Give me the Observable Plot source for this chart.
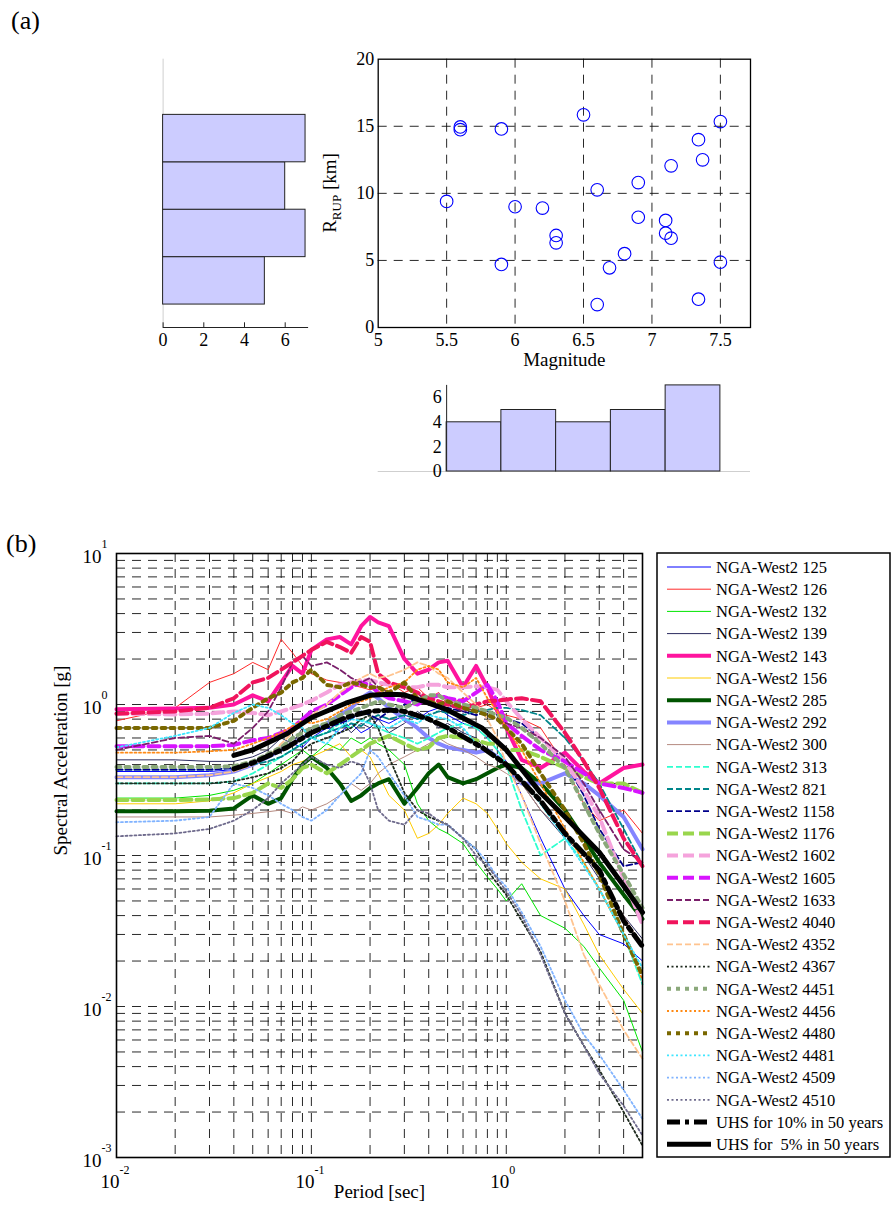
<!DOCTYPE html>
<html>
<head>
<meta charset="utf-8">
<script src="https://cdn.jsdelivr.net/npm/d3@7"></script>
<script src="https://cdn.jsdelivr.net/npm/@observablehq/plot@0.6"></script>
<style>
  body { margin: 0; background: #fff; }
  #fig { position: relative; width: 892px; height: 1217px; font-family: "Liberation Serif", "Times New Roman", serif; color: #000; }
  #fig svg { position: absolute; left: 0; overflow: visible; }
  .tag { position: absolute; font-size: 26px; line-height: 1; }
</style>
</head>
<body>
<div id="fig">
  <div class="tag" style="left:11px;top:8px;">(a)</div>
  <div class="tag" style="left:6px;top:531px;">(b)</div>
</div>
<script>
// ---------- (a) earthquake records: magnitude vs rupture distance ----------
const magnitude = [5.5, 5.6, 5.6, 5.9, 5.9, 6.0, 6.2, 6.3, 6.3, 6.5, 6.6, 6.6, 6.69, 6.8, 6.9, 6.9, 7.1, 7.1, 7.14, 7.14, 7.34, 7.37, 7.34, 7.5, 7.5];
const rrup      = [9.4, 14.95, 14.75, 14.8, 4.7, 9.0, 8.9, 6.86, 6.31, 15.85, 10.26, 1.71, 4.45, 5.5, 10.8, 8.22, 7.98, 7.03, 6.66, 12.05, 14.0, 12.5, 2.11, 15.35, 4.87];

// marginal histograms (bin edges and counts)
const magEdges  = [5.5, 5.9, 6.3, 6.7, 7.1, 7.5];
const magCounts = [4, 5, 4, 5, 7];
const rEdges    = [1.71, 5.245, 8.78, 12.315, 15.85];
const rCounts   = [5, 7, 6, 7];

const magTicks  = [5, 5.5, 6, 6.5, 7, 7.5];
const rTicks    = [0, 5, 10, 15, 20];
const histTicks = [0, 2, 4, 6];

// ---------- (b) response spectra ----------
const periods = [0.01, 0.02, 0.03, 0.04, 0.05, 0.06, 0.07, 0.08, 0.09, 0.1, 0.12, 0.14, 0.16, 0.18, 0.2, 0.22, 0.25, 0.3, 0.35, 0.4, 0.45, 0.5, 0.6, 0.7, 0.8, 0.9, 1.0, 1.2, 1.5, 2.0, 2.5, 3.0, 4.0, 5.0];

const sa125  = [0.36,0.36,0.36,0.37,0.40,0.45,0.50,0.55,0.52,0.60, 0.70,0.65,0.75,0.65,0.70,0.80,0.75,0.85,0.80,0.90, 0.95,0.85,0.75,0.70,0.60,0.50,0.42,0.25,0.13,0.06, 0.04,0.03,0.026,0.02];
const sa126  = [0.78,0.95,1.4,1.6,1.9,1.7,2.7,2.2,1.8,1.6, 1.45,1.4,1.35,1.3,1.25,1.3,1.4,1.2,1.3,1.1, 1.2,1.0,1.1,0.95,1.0,0.9,0.85,0.8,0.7,0.4, 0.22,0.17,0.2,0.14];
const sa132  = [0.24,0.24,0.25,0.27,0.30,0.35,0.40,0.45,0.50,0.45, 0.55,0.50,0.60,0.55,0.60,0.55,0.50,0.40,0.22,0.17, 0.15,0.14,0.12,0.09,0.072,0.06,0.05,0.065,0.04,0.033, 0.025,0.018,0.011,0.005];
const sa139  = [0.43,0.43,0.42,0.42,0.45,0.50,0.60,0.55,0.70,0.60, 0.65,0.80,0.65,0.75,0.70,0.80,0.65,0.75,0.90,0.80, 0.70,0.75,0.65,0.60,0.50,0.45,0.40,0.30,0.20,0.13, 0.10,0.07,0.04,0.028];
const sa143  = [0.93,0.94,0.95,1.0,1.15,1.05,1.4,1.8,1.6,2.3, 2.7,2.8,2.5,3.3,3.8,3.5,3.3,2.0,1.6,1.7, 1.9,1.95,1.3,1.8,1.3,0.9,0.7,0.43,0.38,0.48, 0.36,0.30,0.38,0.40];
const sa156  = [0.22,0.22,0.23,0.26,0.30,0.33,0.36,0.40,0.42,0.45, 0.50,0.55,0.45,0.50,0.45,0.35,0.25,0.20,0.13,0.14, 0.16,0.19,0.24,0.22,0.19,0.15,0.12,0.09,0.07,0.06, 0.035,0.022,0.013,0.009];
const sa285  = [0.196,0.196,0.198,0.205,0.25,0.22,0.24,0.32,0.40,0.45, 0.38,0.30,0.23,0.25,0.28,0.30,0.32,0.22,0.28,0.35, 0.40,0.33,0.30,0.32,0.35,0.38,0.40,0.38,0.30,0.20, 0.13,0.09,0.055,0.038];
const sa292  = [0.33,0.33,0.34,0.36,0.40,0.45,0.50,0.55,0.60,0.65, 0.75,0.85,0.95,1.1,1.2,1.1,0.95,0.80,0.70,0.60, 0.55,0.52,0.50,0.48,0.50,0.45,0.40,0.30,0.30,0.35, 0.30,0.25,0.18,0.11];
const sa300  = [0.18,0.18,0.18,0.185,0.19,0.195,0.20,0.19,0.21,0.20, 0.22,0.25,0.30,0.27,0.30,0.35,0.40,0.45,0.50,0.55, 0.60,0.55,0.50,0.45,0.40,0.38,0.35,0.30,0.20,0.14, 0.10,0.075,0.04,0.025];
const sa313  = [0.30,0.30,0.30,0.31,0.35,0.40,0.45,0.50,0.55,0.60, 0.65,0.75,0.70,0.80,0.75,0.70,0.65,0.60,0.55,0.60, 0.65,0.70,0.75,0.70,0.60,0.50,0.40,0.20,0.10,0.13, 0.09,0.06,0.03,0.014];
const sa821  = [0.37,0.37,0.37,0.38,0.40,0.42,0.45,0.50,0.55,0.60, 0.65,0.70,0.75,0.72,0.80,0.85,0.80,0.85,0.80,0.85, 0.90,0.88,0.85,0.90,0.92,0.95,0.95,0.92,0.85,0.60, 0.42,0.30,0.15,0.087];
const sa1158 = [0.37,0.37,0.37,0.38,0.42,0.45,0.50,0.55,0.60,0.65, 0.70,0.75,0.80,0.90,0.85,0.80,0.90,1.0,1.1,1.05, 0.95,0.95,0.90,0.85,0.90,0.85,0.80,0.75,0.60,0.42, 0.25,0.15,0.085,0.09];
const sa1176 = [0.233,0.233,0.235,0.24,0.26,0.30,0.28,0.32,0.38,0.40, 0.35,0.40,0.45,0.50,0.55,0.58,0.62,0.55,0.50,0.52, 0.60,0.62,0.60,0.58,0.55,0.55,0.50,0.50,0.45,0.38, 0.33,0.30,0.30,0.26];
const sa1602 = [0.87,0.86,0.87,0.90,0.88,0.85,0.90,0.95,1.0,1.06, 1.2,1.35,1.4,1.45,1.45,1.4,1.35,1.3,1.3,1.35, 1.35,1.3,1.3,1.32,1.3,1.25,1.05,0.80,0.60,0.42, 0.27,0.18,0.07,0.035];
const sa1605 = [0.53,0.53,0.53,0.54,0.58,0.60,0.65,0.70,0.80,0.90, 1.0,1.15,1.3,1.4,1.35,1.2,1.1,1.05,1.0,1.1, 1.15,1.1,1.05,1.2,1.35,1.05,0.75,0.62,0.50,0.42, 0.35,0.30,0.28,0.26];
const sa1633 = [0.50,0.60,0.62,0.55,0.70,0.90,1.3,1.9,2.1,1.8, 1.9,1.7,1.5,1.4,1.5,1.3,1.2,1.1,1.2,1.0, 0.95,1.0,0.90,0.95,0.85,0.80,0.75,0.70,0.60,0.45, 0.30,0.20,0.11,0.09];
const sa4040 = [0.87,0.90,0.95,1.1,1.4,1.5,1.7,1.9,2.1,2.3, 2.6,2.4,2.2,2.8,2.6,1.6,1.4,1.3,1.2,1.1, 1.05,1.0,0.95,1.0,1.05,1.06,1.08,1.1,1.05,0.65, 0.42,0.28,0.13,0.085];
const sa4352 = [0.33,0.33,0.34,0.36,0.40,0.45,0.55,0.65,0.75,0.85, 1.0,1.2,1.35,1.5,1.6,1.5,1.55,1.7,1.9,1.8, 1.6,1.5,1.2,1.0,0.80,0.60,0.40,0.25,0.12,0.05, 0.022,0.014,0.007,0.0045];
const sa4367 = [0.30,0.30,0.30,0.31,0.33,0.35,0.38,0.42,0.50,0.55, 0.60,0.65,0.70,0.80,0.85,0.70,0.45,0.26,0.20,0.18, 0.17,0.16,0.13,0.11,0.08,0.065,0.055,0.037,0.023,0.009, 0.0055,0.0038,0.002,0.0012];
const sa4451 = [0.385,0.385,0.385,0.39,0.42,0.47,0.52,0.60,0.65,0.70, 0.75,0.85,0.90,0.95,1.0,1.05,1.0,0.95,1.05,1.15, 1.15,1.05,1.0,0.95,0.90,0.85,0.82,0.70,0.55,0.38, 0.22,0.14,0.075,0.045];
const sa4456 = [0.48,0.48,0.49,0.50,0.55,0.60,0.65,0.72,0.78,0.75, 0.80,0.90,1.0,1.05,1.1,1.2,1.3,1.4,1.7,1.8, 1.7,1.4,1.3,1.5,1.1,0.90,0.70,0.50,0.30,0.15, 0.09,0.06,0.03,0.015];
const sa4480 = [0.70,0.70,0.70,0.78,0.95,1.1,1.2,1.4,1.5,1.7, 1.35,1.3,1.4,1.35,1.3,1.3,1.2,1.4,1.1,1.05, 1.0,1.05,0.95,0.90,0.85,0.80,0.70,0.55,0.35,0.20, 0.12,0.075,0.03,0.016];
const sa4481 = [0.52,0.62,0.70,0.88,1.0,0.95,0.85,0.75,0.70,0.60, 0.55,0.70,0.80,0.78,0.75,0.72,0.70,0.80,0.75,0.85, 0.82,0.80,0.70,0.55,0.50,0.45,0.40,0.32,0.22,0.13, 0.085,0.06,0.03,0.018];
const sa4509 = [0.166,0.17,0.18,0.30,0.28,0.25,0.22,0.20,0.18,0.17, 0.20,0.25,0.30,0.35,0.50,0.45,0.35,0.25,0.18,0.17, 0.16,0.16,0.13,0.11,0.09,0.072,0.062,0.042,0.025,0.011, 0.0065,0.0048,0.0028,0.0018];
const sa4510 = [0.134,0.14,0.15,0.17,0.20,0.24,0.30,0.35,0.40,0.45, 0.40,0.38,0.42,0.40,0.30,0.20,0.17,0.16,0.20,0.19, 0.17,0.16,0.13,0.10,0.085,0.07,0.058,0.04,0.022,0.009, 0.0055,0.0036,0.0022,0.0014];

// uniform hazard spectra
const uhsPeriods = [0.04, 0.05, 0.075, 0.1, 0.15, 0.2, 0.25, 0.3, 0.4, 0.5, 0.75, 1, 1.5, 2, 3, 4, 5];
const uhs10 = [0.375, 0.41, 0.52, 0.65, 0.82, 0.90, 0.92, 0.90, 0.80, 0.70, 0.52, 0.40, 0.23, 0.14, 0.08, 0.037, 0.025];
const uhs5  = [0.46, 0.50, 0.64, 0.82, 1.02, 1.15, 1.17, 1.16, 1.02, 0.92, 0.70, 0.50, 0.26, 0.18, 0.105, 0.063, 0.042];

const recordIds = ["125","126","132","139","143","156","285","292","300","313","821","1158","1176","1602","1605","1633","4040","4352","4367","4451","4456","4480","4481","4509","4510"];
const recordSa = [sa125, sa126, sa132, sa139, sa143, sa156, sa285, sa292, sa300, sa313, sa821, sa1158, sa1176, sa1602, sa1605, sa1633, sa4040, sa4352, sa4367, sa4451, sa4456, sa4480, sa4481, sa4509, sa4510];

const decadeX = [0.01, 0.1, 1];
const decadeXExp = ["-2", "-1", "0"];
const decadeY = [0.001, 0.01, 0.1, 1, 10];
const decadeYExp = ["-3", "-2", "-1", "0", "1"];
const minorMult = [2, 3, 4, 5, 6, 7, 8, 9];

// line styles, one per record
const THIN = 1, MED = 1.8, THICK = 4;
const DASH = "6,3", BIGDASH = "11,5", DOT = "2,2.5", BIGDOT = "4,5";
const styles = {
  "125":  {c: "#0000ff", w: THIN},
  "126":  {c: "#ff2a2a", w: THIN},
  "132":  {c: "#00e600", w: THIN},
  "139":  {c: "#2b2b5e", w: THIN},
  "143":  {c: "#ff149e", w: THICK},
  "156":  {c: "#ffcc00", w: THIN},
  "285":  {c: "#005400", w: THICK},
  "292":  {c: "#8585ff", w: THICK},
  "300":  {c: "#b58a80", w: THIN},
  "313":  {c: "#2effcf", w: MED, d: DASH},
  "821":  {c: "#00868b", w: MED, d: DASH},
  "1158": {c: "#00008b", w: MED, d: DASH},
  "1176": {c: "#99d64d", w: THICK, d: BIGDASH},
  "1602": {c: "#f5a3dc", w: THICK, d: BIGDASH},
  "1605": {c: "#d814ff", w: THICK, d: BIGDASH},
  "1633": {c: "#7a1f6b", w: MED, d: DASH},
  "4040": {c: "#f0145c", w: THICK, d: BIGDASH},
  "4352": {c: "#ffc48f", w: MED, d: DASH},
  "4367": {c: "#1e2a1e", w: MED, d: DOT},
  "4451": {c: "#8aa87a", w: THICK, d: BIGDOT},
  "4456": {c: "#ff8a14", w: MED, d: DOT},
  "4480": {c: "#7a6800", w: THICK, d: BIGDOT},
  "4481": {c: "#3fe6ff", w: MED, d: DOT},
  "4509": {c: "#80b3ff", w: MED, d: DOT},
  "4510": {c: "#6e6a8c", w: MED, d: DOT},
  "UHS10": {c: "#000000", w: 5, d: "13,5,4,5"},
  "UHS5":  {c: "#000000", w: 5}
};

const FONT = "Liberation Serif, Times New Roman, serif";
const GRID = {stroke: "#111", strokeWidth: 0.9, strokeDasharray: "9,7"};
const fig = document.getElementById("fig");
const baseStyle = {background: "transparent", fontFamily: FONT, fontSize: "18px", color: "#000", overflow: "visible"};

function place(svg, top) {
  svg.style.top = top + "px";
  svg.style.left = "0px";
  fig.appendChild(svg);
  return svg;
}

// ---------- scatter ----------
const quakes = magnitude.map((m, i) => ({m, r: rrup[i]}));
const XDOM = [5, 7.72];

const scatter = Plot.plot({
  width: 892, height: 400,
  marginLeft: 377.7, marginRight: 142, marginTop: 58.7, marginBottom: 73,
  style: baseStyle,
  x: {domain: XDOM},
  y: {domain: [0, 20]},
  marks: [
    Plot.ruleX(magTicks.slice(1), GRID),
    Plot.ruleY(rTicks.slice(1, -1), GRID),
    Plot.dot(quakes, {x: "m", y: "r", r: 6.3, stroke: "#0000ff", strokeWidth: 1.1, fill: "none"}),
    Plot.frame({stroke: "#000", strokeWidth: 1.3}),
    Plot.axisX({ticks: magTicks, tickSize: 0, tickPadding: 6, fontSize: 18, tickFormat: d => String(d), label: null}),
    Plot.axisY({ticks: rTicks, tickSize: 0, tickPadding: 4, fontSize: 18, tickFormat: d => String(d), label: null}),
    Plot.text(["Magnitude"], {frameAnchor: "bottom", dy: 38, fontSize: 19})
  ]
});
place(scatter, 0);
{
  const t = d3.select(scatter).append("text")
    .attr("transform", "translate(336,193) rotate(-90)")
    .attr("text-anchor", "middle")
    .attr("font-size", 19)
    .attr("font-family", FONT)
    .attr("fill", "#000");
  t.append("tspan").text("R");
  t.append("tspan").attr("font-size", 13).attr("dy", 5).text("RUP");
  t.append("tspan").attr("dy", -5).text(" [km]");
}

// ---------- distance histogram (left) ----------
const rBins = rCounts.map((n, i) => ({lo: rEdges[i], hi: rEdges[i + 1], n}));
const leftHist = Plot.plot({
  width: 892, height: 400,
  marginLeft: 162.6, marginRight: 892 - 162.6 - 20.35 * 7.15, marginTop: 58.7, marginBottom: 73,
  style: baseStyle,
  x: {domain: [0, 7.15]},
  y: {domain: [0, 20]},
  marks: [
    Plot.ruleX([0], {y1: 0, y2: 20, stroke: "#cfcfcf", strokeWidth: 1}),
    Plot.rectX(rBins, {x1: 0, x2: "n", y1: "lo", y2: "hi", fill: "#ccccff", stroke: "#222", strokeWidth: 1}),
    Plot.ruleY([0], {stroke: "#222", strokeWidth: 1}),
    Plot.ruleX(histTicks, {y1: 0, y2: 0.35, stroke: "#222"}),
    Plot.axisX({ticks: histTicks, tickSize: 0, tickPadding: 6, fontSize: 18, label: null}),
    Plot.axisY({ticks: [], label: null, tickSize: 0})
  ]
});
place(leftHist, 0);

// ---------- magnitude histogram (bottom) ----------
const mBins = magCounts.map((n, i) => ({lo: magEdges[i], hi: magEdges[i + 1], n}));
const bottomHist = Plot.plot({
  width: 892, height: 120,
  marginLeft: 377.7, marginRight: 142, marginTop: 14.9, marginBottom: 19,
  style: baseStyle,
  x: {domain: XDOM},
  y: {domain: [0, 7]},
  marks: [
    Plot.ruleY([0], {stroke: "#cfcfcf", strokeWidth: 1}),
    Plot.rectY(mBins, {x1: "lo", x2: "hi", y1: 0, y2: "n", fill: "#ccccff", stroke: "#222", strokeWidth: 1}),
    Plot.ruleX([5.5], {y1: 0, y2: 7, stroke: "#222", strokeWidth: 1}),
    Plot.text(histTicks, {x: 5.5, y: d => d, text: d => String(d), dx: -5, textAnchor: "end", fontSize: 18}),
    Plot.axisX({ticks: [], label: null, tickSize: 0}),
    Plot.axisY({ticks: [], label: null, tickSize: 0})
  ]
});
place(bottomHist, 370);

// ---------- spectra ----------
const xGrid = [];
for (const d of decadeX) for (const k of [1, ...minorMult]) { const v = d * k; if (v > 0.01 && v < 5) xGrid.push(v); }
const yGrid = [];
for (const d of decadeY.slice(0, -1)) for (const k of [1, ...minorMult]) { const v = d * k; if (v > 0.001) yGrid.push(v); }

const recordMarks = recordIds.map((id, j) => {
  const s = styles[id];
  const rows = periods.map((T, i) => ({T, sa: recordSa[j][i]}));
  return Plot.line(rows, {x: "T", y: "sa", stroke: s.c, strokeWidth: s.w, strokeDasharray: s.d, strokeLinejoin: "round"});
});
const uhsMark = (vals, key) => {
  const s = styles[key];
  return Plot.line(uhsPeriods.map((T, i) => ({T, sa: vals[i]})), {x: "T", y: "sa", stroke: s.c, strokeWidth: s.w, strokeDasharray: s.d, strokeLinejoin: "round"});
};

const spectra = Plot.plot({
  width: 892, height: 717,
  marginLeft: 116, marginRight: 250, marginTop: 53, marginBottom: 60,
  style: baseStyle,
  x: {type: "log", domain: [0.01, 5]},
  y: {type: "log", domain: [0.001, 10]},
  marks: [
    Plot.ruleX(xGrid, GRID),
    Plot.ruleY(yGrid, GRID),
    ...recordMarks,
    uhsMark(uhs10, "UHS10"),
    uhsMark(uhs5, "UHS5"),
    Plot.frame({stroke: "#000", strokeWidth: 1.6}),
    Plot.axisX({ticks: [], label: null, tickSize: 0}),
    Plot.axisY({ticks: [], label: null, tickSize: 0}),
    Plot.text(decadeX, {x: d => d, y: 0.001, text: () => "10", dx: 3, dy: 24, textAnchor: "end", fontSize: 19}),
    Plot.text(decadeX, {x: d => d, y: 0.001, text: (d, i) => decadeXExp[i], dx: 3, dy: 13, textAnchor: "start", fontSize: 12}),
    Plot.text(decadeY, {x: 0.01, y: d => d, text: () => "10", dx: -15, dy: 3, textAnchor: "end", fontSize: 19}),
    Plot.text(decadeY, {x: 0.01, y: d => d, text: (d, i) => decadeYExp[i], dx: -15, dy: -9, textAnchor: "start", fontSize: 12}),
    Plot.text(["Period [sec]"], {frameAnchor: "bottom", dy: 40, fontSize: 19}),
    Plot.text(["Spectral Acceleration [g]"], {frameAnchor: "left", dx: -56, rotate: -90, fontSize: 19})
  ]
});
place(spectra, 500);

// ---------- legend ----------
const legendEntries = [
  ...recordIds.map(id => ({key: id, label: "NGA-West2 " + id})),
  {key: "UHS10", label: "UHS for 10% in 50 years"},
  {key: "UHS5", label: "UHS for  5% in 50 years"}
];
const legend = d3.create("svg")
  .attr("width", 236).attr("height", 607)
  .style("left", "656px").style("top", "552px");
legend.append("rect")
  .attr("x", 1).attr("y", 1).attr("width", 233).attr("height", 604)
  .attr("fill", "#fff").attr("stroke", "#000").attr("stroke-width", 1.5);
legendEntries.forEach((e, i) => {
  const s = styles[e.key];
  const y = 15 + i * 22.2;
  legend.append("line")
    .attr("x1", 11).attr("x2", 55).attr("y1", y).attr("y2", y)
    .attr("stroke", s.c).attr("stroke-width", s.w)
    .attr("stroke-dasharray", s.d || null);
  legend.append("text")
    .attr("x", 60).attr("y", y).attr("dy", "0.35em")
    .attr("font-family", FONT).attr("font-size", 16.5)
    .style("white-space", "pre")
    .text(e.label);
});
fig.appendChild(legend.node());
</script>
</body>
</html>
